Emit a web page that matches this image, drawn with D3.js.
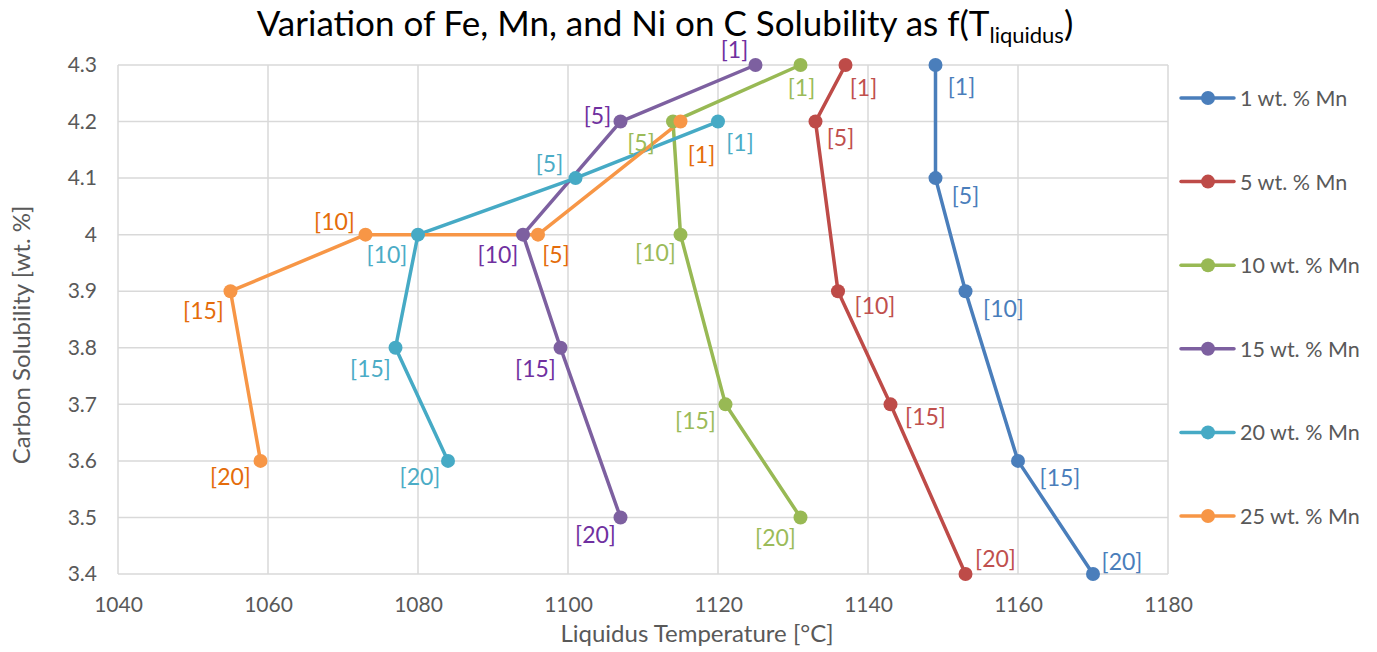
<!DOCTYPE html>
<html><head><meta charset="utf-8">
<script src="https://cdn.jsdelivr.net/npm/d3@7"></script>
<style>body{margin:0;background:#fff;} svg{display:block;font-family:Lato,"Open Sans",sans-serif;}</style>
</head><body>
<svg id="c" width="1377" height="652"></svg>
<script>
const seriesNames = ["1 wt. % Mn","5 wt. % Mn","10 wt. % Mn","15 wt. % Mn","20 wt. % Mn","25 wt. % Mn"];
const pointLabels = ["[1]","[5]","[10]","[15]","[20]"];
const s1_T = [1149,1149,1153,1160,1170]; const s1_C = [4.3,4.1,3.9,3.6,3.4];
const s5_T = [1137,1133,1136,1143,1153]; const s5_C = [4.3,4.2,3.9,3.7,3.4];
const s10_T = [1131,1114,1115,1121,1131]; const s10_C = [4.3,4.2,4.0,3.7,3.5];
const s15_T = [1125,1107,1094,1099,1107]; const s15_C = [4.3,4.2,4.0,3.8,3.5];
const s20_T = [1120,1101,1080,1077,1084]; const s20_C = [4.2,4.1,4.0,3.8,3.6];
const s25_T = [1115,1096,1073,1055,1059]; const s25_C = [4.2,4.0,4.0,3.9,3.6];
const xTicks = [1040,1060,1080,1100,1120,1140,1160,1180];
const yTicks = [3.4,3.5,3.6,3.7,3.8,3.9,4.0,4.1,4.2,4.3];

const lineColors = ["#4a7ebb","#be4b48","#98b954","#7d60a0","#46aac5","#f79646"];
const labelColors = ["#4a7ebb","#c0504d","#9bbb59","#7030a0","#4bacc6","#e46c0a"];
// label placement: [dx, dy] relative to point
const place = [
  [[26,21],[30,17],[38,17],[42,16],[29,-13]],
  [[18,22],[25,15],[37,14],[35,12],[30,-16]],
  [[1,22],[-32,20],[-25,17],[-30,16],[-25,20]],
  [[-21,-16],[-23,-7],[-25,19],[-25,20],[-25,17]],
  [[22,20],[-26,-15],[-31,19],[-25,20],[-28,15]],
  [[21,32],[18,19],[-31,-14],[-27,19],[-30,15]]
];
const Ts = [s1_T,s5_T,s10_T,s15_T,s20_T,s25_T];
const Cs = [s1_C,s5_C,s10_C,s15_C,s20_C,s25_C];
const data = seriesNames.map((n,i)=>({name:n, pts:Ts[i].map((t,j)=>({t, c:Cs[i][j], lab:pointLabels[j]}))}));

const svg = d3.select("#c");
const x = d3.scaleLinear().domain([1040,1180]).range([118,1168]);
const y = d3.scaleLinear().domain([3.4,4.3]).range([574,65]);

// gridlines
svg.append("g").selectAll("line").data(yTicks).join("line")
  .attr("x1",x(1040)).attr("x2",x(1180)).attr("y1",d=>y(d)).attr("y2",d=>y(d))
  .attr("stroke","#d9d9d9").attr("stroke-width",1.5);
svg.append("g").selectAll("line").data(xTicks).join("line")
  .attr("y1",y(3.4)).attr("y2",y(4.3)).attr("x1",d=>x(d)).attr("x2",d=>x(d))
  .attr("stroke","#d9d9d9").attr("stroke-width",1.5);

// axes
const yAxis = svg.append("g").attr("transform",`translate(${x(1040)},0)`)
  .call(d3.axisLeft(y).tickValues(yTicks).tickSize(0).tickPadding(21).tickFormat(d=>d3.format("")(+d.toFixed(1))));
const xAxis = svg.append("g").attr("transform",`translate(0,${y(3.4)})`)
  .call(d3.axisBottom(x).tickValues(xTicks).tickSize(0).tickPadding(23).tickFormat(d3.format("d")));
[yAxis,xAxis].forEach(a=>{a.select(".domain").remove();a.selectAll("text").attr("fill","#595959").style("font-size","21px").style("font-family","Lato");});

// lines
const line = d3.line().x(d=>x(d.t)).y(d=>y(d.c));
const g = svg.append("g");
data.forEach((s,i)=>{
  g.append("path").datum(s.pts).attr("d",line).attr("fill","none")
    .attr("stroke",lineColors[i]).attr("stroke-width",3.5).attr("stroke-linejoin","round");
});
data.forEach((s,i)=>{
  g.append("g").selectAll("circle").data(s.pts).join("circle")
    .attr("cx",d=>x(d.t)).attr("cy",d=>y(d.c)).attr("r",7).attr("fill",lineColors[i]);
});
data.forEach((s,i)=>{
  g.append("g").selectAll("text").data(s.pts).join("text")
    .attr("x",(d,j)=>x(d.t)+place[i][j][0]).attr("y",(d,j)=>y(d.c)+place[i][j][1])
    .attr("text-anchor","middle").attr("dominant-baseline","central")
    .attr("fill",labelColors[i]).style("font-size","23px").text(d=>d.lab);
});

// title
const title = svg.append("text").attr("x",665).attr("y",36).attr("text-anchor","middle")
  .style("font-size","35px").attr("fill","#000");
title.append("tspan").text("Variation of Fe, Mn, and Ni on C Solubility as f(T");
title.append("tspan").text("liquidus").style("font-size","22px").attr("dy",7);
title.append("tspan").text(")").attr("dy",-7);

// axis titles
svg.append("text").attr("x",697).attr("y",642).attr("text-anchor","middle")
  .style("font-size","24px").attr("fill","#595959").text("Liquidus Temperature [°C]");
svg.append("text").attr("transform","translate(30,335) rotate(-90)").attr("text-anchor","middle")
  .style("font-size","24px").attr("fill","#595959").text("Carbon Solubility [wt. %]");

// legend
const leg = svg.append("g");
seriesNames.forEach((n,i)=>{
  const ly = 98 + i*83.6;
  leg.append("line").attr("x1",1181).attr("x2",1234).attr("y1",ly).attr("y2",ly)
    .attr("stroke",lineColors[i]).attr("stroke-width",3.5).attr("stroke-linecap","round");
  leg.append("circle").attr("cx",1208).attr("cy",ly).attr("r",7).attr("fill",lineColors[i]);
  leg.append("text").attr("x",1240).attr("y",ly).attr("dominant-baseline","central")
    .style("font-size","21.5px").attr("fill","#595959").text(n);
});
</script>
</body></html>
